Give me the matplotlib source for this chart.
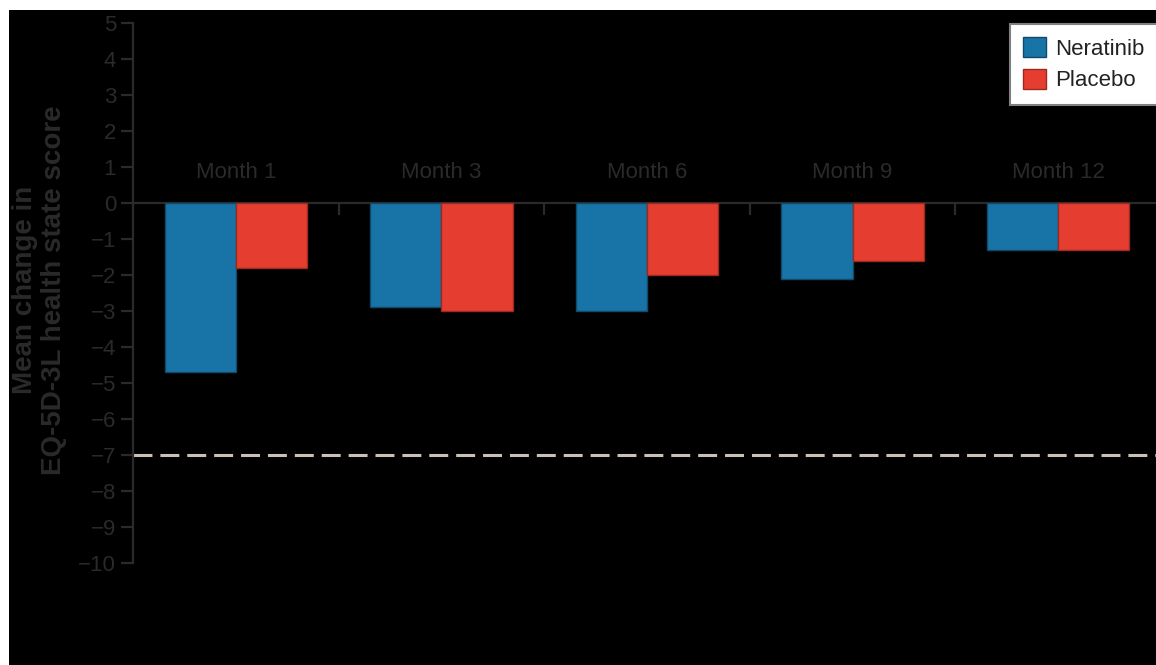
import numpy as np
import matplotlib
matplotlib.use("Agg")
import matplotlib.pyplot as plt
from matplotlib.patches import Rectangle

plt.rcParams["font.family"] = ["Liberation Sans", "DejaVu Sans"]

# ─────────────────────────────────────────────
# DATA — mean change from baseline, EQ-5D-3L health state score
# ─────────────────────────────────────────────

MONTHS     = ["Month 1", "Month 3", "Month 6", "Month 9", "Month 12"]
NERATINIB  = [-4.7, -2.9, -3.0, -2.1, -1.3]
PLACEBO    = [-1.8, -3.0, -2.0, -1.6, -1.3]
MID_LINE   = -7          # minimally important difference threshold
Y_TICKS    = list(range(-10, 6))

BLUE   = "#1874a6"
RED    = "#e53e31"
INK    = "#2a2a2a"
DASH   = "#c9c1b7"

W, H = 1156, 665
fig = plt.figure(figsize=(W / 100, H / 100), dpi=100)
fig.patch.set_facecolor("white")

# black panel with a thin white margin at the top and left
fig.patches.append(Rectangle((9 / W, 0), 1, 1 - 10 / H, transform=fig.transFigure,
                             facecolor="black", edgecolor="none", zorder=-10))

ax = fig.add_axes([133 / W, 1 - 563 / H, (1161 - 133) / W, (563 - 23) / H])
ax.set_facecolor("black")
ax.patch.set_alpha(0)

x = np.arange(len(MONTHS))
bw = 0.346
ax.bar(x - bw / 2, NERATINIB, bw, color=BLUE, edgecolor="#0e4a6c",
       linewidth=1, label="Neratinib", zorder=3)
ax.bar(x + bw / 2, PLACEBO, bw, color=RED, edgecolor="#9c2a21",
       linewidth=1, label="Placebo", zorder=3)

# dashed MID reference line
ax.axhline(MID_LINE, color=DASH, linewidth=2.2,
           linestyle=(0, (6.2, 2.6)), zorder=2)

# month labels sit above the zero line
for xi, m in zip(x, MONTHS):
    ax.text(xi, 0.85, m, ha="center", va="center", fontsize=16, color=INK)

ax.set_xlim(-0.5, len(MONTHS) - 0.5)
ax.set_ylim(-10, 5)
ax.set_yticks(Y_TICKS)
ax.set_yticklabels([f"{t}".replace("-", "\u2212") for t in Y_TICKS])

ax.spines["top"].set_visible(False)
ax.spines["right"].set_visible(False)
ax.spines["bottom"].set_position(("data", 0))
for s in ("left", "bottom"):
    ax.spines[s].set_color(INK)
    ax.spines[s].set_linewidth(1.6)
ax.spines["left"].set_zorder(5)

ax.set_xticks([])
ax.set_xticks(x[:-1] + 0.5, minor=True)
ax.tick_params(axis="x", which="minor", direction="out", length=8.5,
               width=1.6, color=INK, labelbottom=False)
ax.tick_params(axis="y", direction="out", length=8.5, width=1.6,
               color=INK, labelcolor=INK, labelsize=16, pad=3.6)

fig.text(40 / W, 1 - 290 / H, "Mean change in\nEQ-5D-3L health state score",
         rotation=90, ha="center", va="center", multialignment="center",
         fontsize=20, fontweight="bold", color=INK, linespacing=1.15)

leg = fig.legend(loc="upper left", bbox_to_anchor=(1010 / W, 1 - 24 / H),
                 fontsize=16, frameon=True, fancybox=False, framealpha=1,
                 handlelength=1.0, handleheight=1.0, handletextpad=0.45,
                 labelspacing=0.4, borderpad=0.6, borderaxespad=0)
leg.get_frame().set_edgecolor("#808080")
leg.get_frame().set_linewidth(1.5)
leg.get_frame().set_facecolor("white")
for t in leg.get_texts():
    t.set_color("#222222")

plt.savefig("out.png", dpi=100, facecolor=fig.get_facecolor())
